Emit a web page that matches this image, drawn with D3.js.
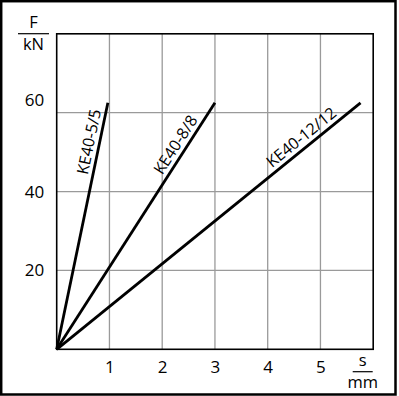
<!DOCTYPE html>
<html>
<head>
<meta charset="utf-8">
<script src="https://cdn.jsdelivr.net/npm/d3@7"></script>
<style>
  body { margin:0; background:#fff; }
  text { font-family:"Open Sans", "Noto Sans", sans-serif; fill:#000; }
</style>
</head>
<body>
<svg id="chart" width="399" height="396"></svg>
<script>
// ---data---
var seriesNames = ["KE40-5/5", "KE40-8/8", "KE40-12/12"]
var seriesS = [[0, 0.97], [0, 3.0], [0, 5.76]]     // travel s, mm
var seriesF = [[0, 62.5], [0, 62.5], [0, 62.5]]    // force F, kN
var labelPos = [0.965, 0.92, 0.935]                // where along the line the label ends
var xTicks = [1, 2, 3, 4, 5]
var yTicks = [20, 40, 60]

var svg = d3.select("#chart")

// ---outer frame---
svg.append("rect")
  .attr("x", 1.2).attr("y", 1.2)
  .attr("width", 394.3).attr("height", 393.3)
  .attr("fill", "none")
  .attr("stroke", "black")
  .attr("stroke-width", 2.5)

var plotL = 56.7, plotR = 373.2, plotT = 33.8, plotB = 349.3

var x = d3.scaleLinear().domain([0, 6]).range([plotL, plotR])
var y = d3.scaleLinear().domain([0, 80]).range([plotB, plotT])

// ---grid---
svg.append("g").selectAll("line").data(xTicks).join("line")
  .attr("x1", d => x(d)).attr("x2", d => x(d))
  .attr("y1", plotT).attr("y2", plotB)
  .attr("stroke", "#9a9a9a").attr("stroke-width", 1.3)

svg.append("g").selectAll("line").data(yTicks).join("line")
  .attr("x1", plotL).attr("x2", plotR)
  .attr("y1", d => y(d)).attr("y2", d => y(d))
  .attr("stroke", "#9a9a9a").attr("stroke-width", 1.3)

// ---plot border---
svg.append("rect")
  .attr("x", plotL).attr("y", plotT)
  .attr("width", plotR - plotL).attr("height", plotB - plotT)
  .attr("fill", "none")
  .attr("stroke", "black")
  .attr("stroke-width", 1.6)

// ---axes (labels only, lines come from the grid)---
var xAxis = svg.append("g")
  .attr("transform", "translate(0," + plotB + ")")
  .call(d3.axisBottom(x).tickValues(xTicks).tickFormat(d3.format("d")).tickSize(0).tickPadding(12))
xAxis.select(".domain").remove()

var yAxis = svg.append("g")
  .attr("transform", "translate(" + plotL + ",0)")
  .call(d3.axisLeft(y).tickValues(yTicks).tickFormat(d3.format("d")).tickSize(0).tickPadding(12.5))
yAxis.select(".domain").remove()
// top label sits a bit above its grid line in the original
yAxis.selectAll(".tick text").filter(d => d == 60).attr("y", -13)

svg.selectAll(".tick text")
  .style("font-size", "17px")
  .style("font-family", "'Open Sans', sans-serif")

// ---unit fractions---
function unitFraction(cx, cy, numer, denom, w) {
  var g = svg.append("g")
  g.append("text").attr("x", cx).attr("y", cy - 5.5).attr("text-anchor", "middle")
    .style("font-size", "16.5px").text(numer)
  g.append("line").attr("x1", cx - w / 2).attr("x2", cx + w / 2)
    .attr("y1", cy).attr("y2", cy)
    .attr("stroke", "black").attr("stroke-width", 1.2)
  g.append("text").attr("x", cx).attr("y", cy + 16.5).attr("text-anchor", "middle")
    .style("font-size", "16.5px").text(denom)
}
unitFraction(33.5, 33.7, "F", "kN", 31)
unitFraction(362.7, 371.7, "s", "mm", 20)

// ---characteristic lines---
var line = d3.line().x(d => x(d[0])).y(d => y(d[1]))
seriesNames.forEach(function (name, i) {
  var pts = seriesS[i].map((s, j) => [s, seriesF[i][j]])
  svg.append("path")
    .attr("d", line(pts))
    .attr("fill", "none")
    .attr("stroke", "black")
    .attr("stroke-width", 2.8)

  var x0 = x(pts[0][0]), y0 = y(pts[0][1])
  var x1 = x(pts[1][0]), y1 = y(pts[1][1])
  var ang = Math.atan2(y1 - y0, x1 - x0) * 180 / Math.PI
  var t = labelPos[i]
  svg.append("text")
    .attr("transform", "translate(" + (x0 + (x1 - x0) * t) + "," + (y0 + (y1 - y0) * t) + ")rotate(" + ang + ")")
    .attr("text-anchor", "end")
    .attr("dy", -5)
    .style("font-size", "16px")
    .text(name)
})
</script>
</body>
</html>
